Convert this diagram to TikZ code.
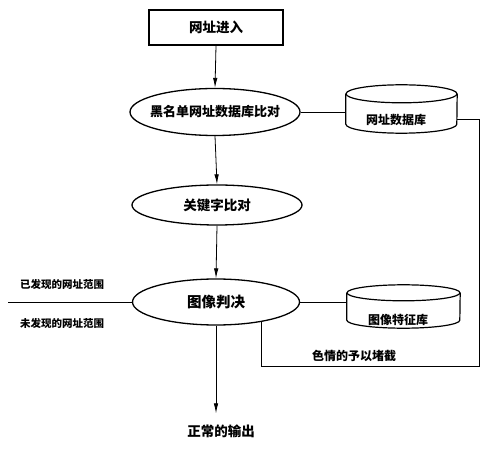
\documentclass[tikz,border=0pt]{standalone}
\usepackage{fontspec}
\setmainfont{Noto Sans CJK SC}
\usetikzlibrary{shapes.geometric,arrows.meta,calc}
\begin{document}
\begin{tikzpicture}[x=1pt,y=1pt,
  box/.style={draw,line width=1.6pt,minimum width=134pt,minimum height=35pt,inner sep=0pt,font=\bfseries\fontsize{13.5}{14}\selectfont},
  oval/.style={draw,ellipse,line width=1.3pt,inner xsep=-30pt,inner ysep=0pt,font=\bfseries\fontsize{13}{14}\selectfont},
  cylbox/.style={rectangle,inner sep=0pt},
  cyltext/.style={inner sep=0pt,font=\bfseries\fontsize{12}{13}\selectfont},
  sidetext/.style={inner sep=0pt,font=\bfseries\fontsize{10.5}{11}\selectfont},
  conn/.style={line width=0.8pt},
  arr/.style={conn,-{Latex[length=10pt,width=4.5pt]}},
  cyl/.style={line width=1.2pt}]
\useasboundingbox (0,0) rectangle (492,450);
% nodes
\node[box] (in) at (216,422.5) {网址进入};
\node[oval,minimum width=170pt,minimum height=47pt] (e1) at (215,338) {黑名单网址数据库比对};
\node[oval,minimum width=170pt,minimum height=40pt,font=\bfseries\fontsize{13.5}{14}\selectfont] (e2) at (217,245) {关键字比对};
\node[oval,minimum width=167pt,minimum height=46pt,font=\bfseries\fontsize{14.5}{15}\selectfont] (e3) at (216,148) {图像判决};
% cylinders
\node[cylbox,minimum width=111pt,minimum height=48pt] (db1) at (401.5,341) {};
\draw[cyl] ($(db1.north west)+(0,-9)$) -- ($(db1.south west)+(0,9)$)
  arc[start angle=180,end angle=360,x radius=55.5pt,y radius=9pt]
  -- ($(db1.north east)+(0,-9)$);
\draw[cyl] ($(db1.north)+(0,-9)$) ellipse[x radius=55.5pt,y radius=9pt];
\node[cyltext] (db1t) at (396,330) {网址数据库};
\node[cylbox,minimum width=113pt,minimum height=43pt] (db2) at (403.5,143.5) {};
\draw[cyl] ($(db2.north west)+(0,-8)$) -- ($(db2.south west)+(0,8)$)
  arc[start angle=180,end angle=360,x radius=56.5pt,y radius=8pt]
  -- ($(db2.north east)+(0,-8)$);
\draw[cyl] ($(db2.north)+(0,-8)$) ellipse[x radius=56.5pt,y radius=8pt];
\node[cyltext] (db2t) at (398,130) {图像特征库};
% texts
\node[sidetext] (found) at (62,166) {已发现的网址范围};
\node[sidetext] (notfound) at (62,127) {未发现的网址范围};
\node[cyltext] (block) at (354,94) {色情的予以堵截};
\node[inner sep=3pt,font=\bfseries\fontsize{13.5}{14}\selectfont] (out) at (221,19) {正常的输出};
\coordinate (lft) at (8,148);
\coordinate (corner) at (479,84);
% connectors
\draw[arr] (in.south) -- (e1.north);
\draw[arr] (e1.south) -- (e2.north);
\draw[arr] (e2.south) -- (e3.north);
\draw[arr,shorten >=8pt] (e3.south) -- (e3.south |- out.north);
\draw[conn] (e1.east) -- (e1.east -| db1.west);
\draw[conn] (e3.east) -- (e3.east -| db2.west);
\draw[conn] (lft) -- (e3.west);
\draw[conn] (e3.-24.6) |- (corner) |- ($(db1.east)+(0,-10)$);
\end{tikzpicture}
\end{document}
